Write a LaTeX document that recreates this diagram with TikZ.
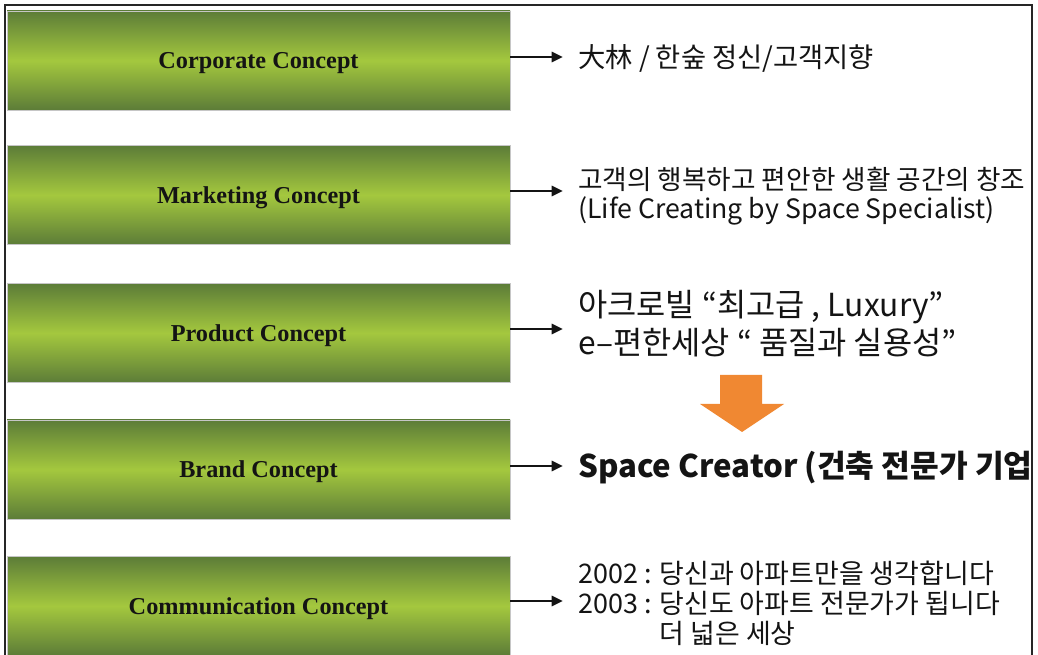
\documentclass[tikz,border=0pt]{standalone}
\usepackage{fontspec}
\setmainfont{Liberation Serif}
\newfontfamily\kr{Noto Sans CJK KR}
\usetikzlibrary{arrows.meta}
\definecolor{gdark}{RGB}{92,124,56}
\definecolor{glight}{RGB}{164,200,62}
\definecolor{orangearr}{RGB}{240,136,50}
\definecolor{txt}{RGB}{20,20,20}
\begin{document}
\begin{tikzpicture}[x=0.75pt,y=-0.75pt,
  concept/.style={rectangle, minimum width=377.25pt, minimum height=74.5pt, inner sep=0pt,
    top color=gdark, bottom color=gdark, middle color=glight, draw=gray!45, line width=0.4pt,
    text=txt, text depth=0pt, font=\bfseries\fontsize{18.2}{21}\selectfont},
  desc/.style={anchor=west, inner sep=0pt, align=left, text=txt},
  conn/.style={line width=2pt, draw=txt, -{Triangle[length=8.5pt,width=7.5pt]}}
]
\useasboundingbox (0,0) rectangle (1038,655);
\fill[white] (0,0) rectangle (1038,655);
\draw[line width=1.6pt, draw=black!85] (5,662) -- (5,5) -- (1032,5) -- (1032,662);

\node[concept] (b1) at (258.5,60.5) {Corporate Concept};
\node[concept] (b2) at (258.5,195) {Marketing Concept};
\node[concept] (b3) at (258.5,333) {Product Concept};
\node[concept] (b4) at (258.5,469.5) {Brand Concept};
\node[concept] (b5) at (258.5,606) {Communication Concept};

\coordinate (a1) at (563,57);
\coordinate (a2) at (563,191);
\coordinate (a3) at (563,329);
\coordinate (a4) at (563,466);
\coordinate (a5) at (563,601);

\node[desc, font=\kr\fontsize{20.5}{24}\selectfont] (t1) at (578,58) {大林 / 한숲 정신/고객지향};
\node[desc, font=\kr\fontsize{20}{21.75}\selectfont] (t2) at (578,196) {고객의 행복하고 편안한 생활 공간의 창조\\(Life Creating by Space Specialist)};
\node[desc, font=\kr\fontsize{23.8}{28.5}\selectfont] (t3) at (578,324) {아크로빌 “최고급 , Luxury”\\e–편한세상 “ 품질과 실용성”};
\node[desc, font=\kr\bfseries\fontsize{23.4}{26}\selectfont] (t4) at (578,468) {Space Creator (건축 전문가 기업};
\node[desc, font=\kr\fontsize{20.2}{22.5}\selectfont] (t5) at (578,603) {2002 : 당신과 아파트만을 생각합니다\\2003 : 당신도 아파트 전문가가 됩니다\\\phantom{2003 : }더 넓은 세상};

\foreach \i in {1,...,5} {
  \draw[conn] (b\i.east |- a\i) -- (a\i);
}

\fill[orangearr] (720,375) -- (762,375) -- (762,404) -- (784,404) -- (742,432) -- (700,404) -- (720,404) -- cycle;
\end{tikzpicture}
\end{document}
